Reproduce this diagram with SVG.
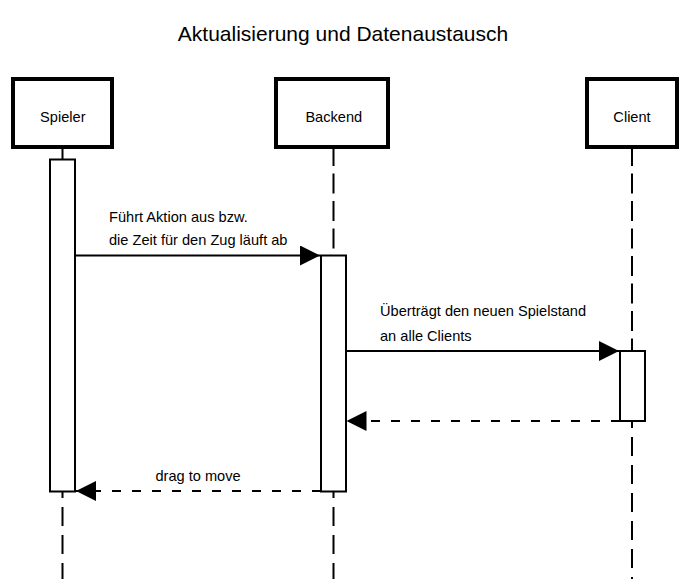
<svg xmlns="http://www.w3.org/2000/svg" width="690" height="579" viewBox="0 0 690 579">
<style>
  text { font-family: "Liberation Sans", Arial, sans-serif; fill: #000; }
  .title { font-size: 21px; text-anchor: middle; }
  .lbl { font-size: 14.6px; }
  .nlbl { font-size: 14.6px; text-anchor: middle; }
  .head { fill: #fff; stroke: #000; stroke-width: 4; }
  .act { fill: #fff; stroke: #000; stroke-width: 2; }
  .life { stroke: #000; stroke-width: 2; fill: none; }
  .lifetop { stroke-dasharray: 20 7.5; }
  .lifebot { stroke-dasharray: 19 9; stroke-dashoffset: 12; }
  .msg { stroke: #000; stroke-width: 2; fill: none; }
  .ret { stroke-dasharray: 9 11; }
</style>
<defs>
  <marker id="arrow" markerUnits="userSpaceOnUse" markerWidth="20" markerHeight="20" refX="20" refY="10" orient="auto">
    <path d="M0,0 L20,10 L0,20 Z" fill="#000"/>
  </marker>
</defs>
<rect width="690" height="579" fill="#fff"/>
<text class="title" x="343" y="41">Aktualisierung und Datenaustausch</text>

<g id="lifelines">
  <line class="life lifetop" x1="62.5" y1="146" x2="62.5" y2="160"/>
  <line class="life lifebot" x1="62.5" y1="491" x2="62.5" y2="579"/>
  <line class="life lifetop" x1="333.5" y1="146" x2="333.5" y2="256"/>
  <line class="life lifebot" x1="333.5" y1="491" x2="333.5" y2="579"/>
  <line class="life lifetop" x1="632" y1="146" x2="632" y2="352"/>
  <line class="life lifebot" x1="632" y1="421" x2="632" y2="579"/>
</g>

<g id="spieler">
  <rect class="head" x="13" y="79" width="99" height="68"/>
  <text class="nlbl" x="62.8" y="122">Spieler</text>
  <rect class="act" x="50" y="159.5" width="25" height="332"/>
</g>
<g id="backend">
  <rect class="head" x="276" y="79" width="112" height="68"/>
  <text class="nlbl" x="333.8" y="122">Backend</text>
  <rect class="act" x="321" y="255.5" width="25" height="236"/>
</g>
<g id="client">
  <rect class="head" x="587" y="79" width="90" height="68"/>
  <text class="nlbl" x="632" y="122">Client</text>
  <rect class="act" x="620" y="351" width="25" height="70"/>
</g>

<g id="connectors">
  <line class="msg" x1="75" y1="255.5" x2="320" y2="255.5" marker-end="url(#arrow)"/>
  <line class="msg" x1="346" y1="351" x2="619" y2="351" marker-end="url(#arrow)"/>
  <line class="msg ret" x1="620" y1="421" x2="346.5" y2="421" marker-end="url(#arrow)"/>
  <line class="msg ret" x1="321" y1="491" x2="76" y2="491" marker-end="url(#arrow)"/>
  <text class="lbl" x="109" y="222">Führt Aktion aus bzw.</text>
  <text class="lbl" x="109" y="245">die Zeit für den Zug läuft ab</text>
  <text class="lbl" x="380" y="316">Überträgt den neuen Spielstand</text>
  <text class="lbl" x="380" y="341">an alle Clients</text>
  <text class="lbl" x="198" y="481" text-anchor="middle">drag to move</text>
</g>
</svg>
